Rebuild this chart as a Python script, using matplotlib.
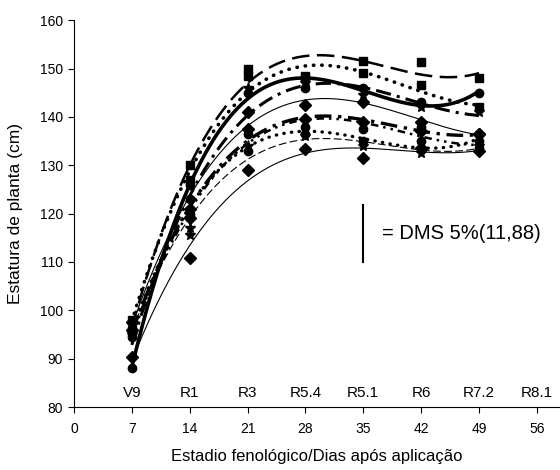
import numpy as np
import matplotlib
matplotlib.use('Agg')
import matplotlib.pyplot as plt

plt.rcParams['font.family'] = ['Liberation Sans', 'DejaVu Sans']

dias = [7, 14, 21, 28, 35, 42, 49]
estadios = ['V9', 'R1', 'R3', 'R5.4', 'R5.1', 'R6', 'R7.2', 'R8.1']
estadio_dias = [7, 14, 21, 28, 35, 42, 49, 56]

# estatura média (cm) por tratamento
t1 = [96.0, 130.0, 150.0, 148.5, 151.5, 151.3, 148.0]
t2 = [98.0, 127.0, 148.5, 148.0, 149.0, 146.5, 142.0]
t3 = [88.0, 126.0, 145.0, 146.0, 146.0, 143.0, 145.0]
t4 = [95.0, 117.0, 146.0, 147.0, 144.5, 142.0, 141.0]
t5 = [97.5, 121.0, 141.0, 142.5, 143.0, 139.0, 136.5]
t6 = [90.3, 110.8, 129.0, 133.3, 131.5, 133.6, 133.0]
t7 = [97.0, 115.5, 134.0, 136.0, 134.0, 132.5, 134.0]
t8 = [95.0, 123.0, 133.0, 136.5, 135.0, 135.0, 135.0]
t9 = [96.0, 119.0, 137.5, 139.5, 139.0, 137.0, 136.5]
t10 = [94.5, 120.0, 136.5, 138.0, 137.5, 138.0, 133.5]

dms = 11.88
dms_base = 110.0

series = [
    (t1, 's', dict(ls=(0, (7, 3)), lw=1.8)),
    (t2, 's', dict(ls=(0, (0.1, 2.2)), lw=2.6, dash_capstyle='round')),
    (t3, 'o', dict(ls='-', lw=2.6)),
    (t4, '*', dict(ls=(0, (5, 2, 1, 2)), lw=2.2)),
    (t5, 'D', dict(ls='-', lw=0.8)),
    (t6, 'D', dict(ls='-', lw=0.8)),
    (t7, '*', dict(ls=(0, (7, 3)), lw=0.8)),
    (t8, 'o', dict(ls=(0, (0.1, 2.2)), lw=2.4, dash_capstyle='round')),
    (t9, 'D', dict(ls=(0, (5, 2, 1, 2)), lw=2.4)),
    (t10, 'o', dict(ls=(0, (3, 2, 1, 2, 1, 2)), lw=1.8)),
]

fig = plt.figure(figsize=(5.6, 4.7), dpi=100)
ax = fig.add_axes([0.132, 0.134, 0.868, 0.823])

xs = np.linspace(7, 49, 200)
for y, mk, st in series:
    ax.plot(dias, y, mk, color='black', ms=6 if mk != '*' else 8, zorder=3)
    coef = np.polyfit(dias, y, 3)
    ax.plot(xs, np.polyval(coef, xs), color='black', **st)

# barra da DMS
ax.plot([35, 35], [dms_base, dms_base + dms], color='black', lw=1.5)
ax.text(37.3, dms_base + dms / 2, '= DMS 5%(11,88)', fontsize=14.5, va='center')

for d, e in zip(estadio_dias, estadios):
    ax.text(d, 82.9, e, ha='center', va='center', fontsize=11)

ax.set_xlim(0, 58.8)
ax.set_ylim(80, 160)
ax.set_xticks(range(0, 57, 7))
ax.set_yticks(range(80, 161, 10))
ax.tick_params(direction='out', length=4.5, labelsize=10)
ax.tick_params(axis='x', pad=6)
for s in ['top', 'right']:
    ax.spines[s].set_visible(False)
ax.set_xlabel('Estadio fenológico/Dias após aplicação', fontsize=12, labelpad=10)
ax.set_ylabel('Estatura de planta (cm)', fontsize=12.5, labelpad=12)

fig.savefig('out.png', dpi=100)
